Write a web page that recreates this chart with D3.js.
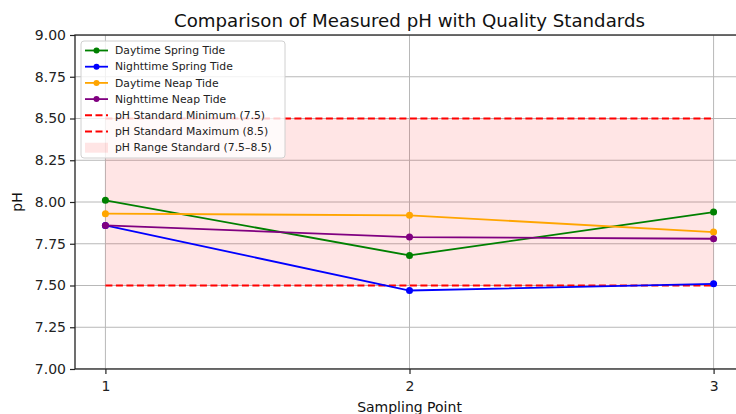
<!DOCTYPE html>
<html>
<head>
<meta charset="utf-8">
<script src="https://cdn.jsdelivr.net/npm/d3@7"></script>
<style>
  html, body { margin: 0; padding: 0; background: #fff; }
  svg { display: block; font-family: "DejaVu Sans", sans-serif; }
</style>
</head>
<body>
<svg id="chart" width="736" height="414"></svg>
<script>
const samplingPoints = [1, 2, 3];
const daytimeSpring = [8.01, 7.68, 7.94];
const nighttimeSpring = [7.86, 7.47, 7.51];
const daytimeNeap = [7.93, 7.92, 7.82];
const nighttimeNeap = [7.86, 7.79, 7.78];
const phMin = 7.5;
const phMax = 8.5;
const yTicks = [7.00, 7.25, 7.50, 7.75, 8.00, 8.25, 8.50, 8.75, 9.00];
const seriesNames = ["Daytime Spring Tide", "Nighttime Spring Tide", "Daytime Neap Tide", "Nighttime Neap Tide"];
const seriesColors = ["green", "blue", "orange", "purple"];
const title = "Comparison of Measured pH with Quality Standards";

const series = [daytimeSpring, nighttimeSpring, daytimeNeap, nighttimeNeap].map((v, i) => ({
  name: seriesNames[i], color: seriesColors[i], values: v
}));

const svg = d3.select("#chart");
const m = { left: 75, top: 35, right: 744, bottom: 369 };

const x = d3.scaleLinear().domain([0.9, 3.1]).range([m.left, m.right]);
const y = d3.scaleLinear().domain([7, 9]).range([m.bottom, m.top]);

svg.append("defs").append("clipPath").attr("id", "plotclip")
  .append("rect").attr("x", m.left).attr("y", m.top)
  .attr("width", m.right - m.left).attr("height", m.bottom - m.top);

const plot = svg.append("g").attr("clip-path", "url(#plotclip)");

// grid
plot.selectAll(".gy").data(yTicks).enter().append("line")
  .attr("x1", m.left).attr("x2", m.right)
  .attr("y1", d => y(d)).attr("y2", d => y(d))
  .attr("stroke", "#b8b8b8").attr("stroke-width", 1);
plot.selectAll(".gx").data(samplingPoints).enter().append("line")
  .attr("y1", m.top).attr("y2", m.bottom)
  .attr("x1", d => x(d)).attr("x2", d => x(d))
  .attr("stroke", "#b8b8b8").attr("stroke-width", 1);

// standard range band
plot.append("rect")
  .attr("x", x(samplingPoints[0]))
  .attr("width", x(samplingPoints[samplingPoints.length - 1]) - x(samplingPoints[0]))
  .attr("y", y(phMax)).attr("height", y(phMin) - y(phMax))
  .attr("fill", "red").attr("fill-opacity", 0.1);

// standard lines
[phMin, phMax].forEach(v => {
  plot.append("line")
    .attr("x1", x(samplingPoints[0])).attr("x2", x(samplingPoints[samplingPoints.length - 1]))
    .attr("y1", y(v)).attr("y2", y(v))
    .attr("stroke", "red").attr("stroke-width", 2)
    .attr("stroke-dasharray", "7,3.5");
});

// series
const line = d3.line().x((d, i) => x(samplingPoints[i])).y(d => y(d));
series.forEach(s => {
  plot.append("path").datum(s.values)
    .attr("d", line).attr("fill", "none")
    .attr("stroke", s.color).attr("stroke-width", 1.8);
  plot.selectAll(null).data(s.values).enter().append("circle")
    .attr("cx", (d, i) => x(samplingPoints[i])).attr("cy", d => y(d))
    .attr("r", 3.5).attr("fill", s.color);
});

// axes
const yAxis = d3.axisLeft(y).tickValues(yTicks).tickFormat(d3.format(".2f")).tickSize(5).tickPadding(4);
const gy = svg.append("g").attr("transform", `translate(${m.left},0)`).call(yAxis);
const xAxis = d3.axisBottom(x).tickValues(samplingPoints).tickFormat(d3.format("d")).tickSize(5).tickPadding(4);
const gx = svg.append("g").attr("transform", `translate(0,${m.bottom})`).call(xAxis);
[gx, gy].forEach(g => {
  g.select(".domain").remove();
  g.selectAll("line").attr("stroke", "#222").attr("stroke-width", 1.2);
  g.selectAll("text").attr("font-size", 14).attr("fill", "#222").attr("font-family", "DejaVu Sans, sans-serif");
});
gx.selectAll("text").attr("dy", "0.9em");

// spines
svg.append("rect").attr("x", m.left).attr("y", m.top)
  .attr("width", m.right - m.left).attr("height", m.bottom - m.top)
  .attr("fill", "none").attr("stroke", "#222").attr("stroke-width", 1.3);

// title and labels
svg.append("text").attr("x", (m.left + m.right) / 2).attr("y", 27)
  .attr("text-anchor", "middle").attr("font-size", 18.2).attr("fill", "#111").text(title);
svg.append("text").attr("x", (m.left + m.right) / 2).attr("y", 412)
  .attr("text-anchor", "middle").attr("font-size", 14).attr("fill", "#111").text("Sampling Point");
svg.append("text").attr("transform", `translate(22,${(m.top + m.bottom) / 2}) rotate(-90)`)
  .attr("text-anchor", "middle").attr("font-size", 14).attr("fill", "#111").text("pH");

// legend
const legendItems = series.map(s => ({ type: "line", name: s.name, color: s.color }))
  .concat([
    { type: "dash", name: `pH Standard Minimum (${phMin})`, color: "red" },
    { type: "dash", name: `pH Standard Maximum (${phMax})`, color: "red" },
    { type: "band", name: `pH Range Standard (${phMin}–${phMax})`, color: "red" }
  ]);
const lg = svg.append("g").attr("transform", "translate(81,41)");
lg.append("rect").attr("width", 204).attr("height", 117).attr("rx", 3)
  .attr("fill", "#fff").attr("fill-opacity", 0.8).attr("stroke", "#d0d0d0").attr("stroke-width", 1);
legendItems.forEach((d, i) => {
  const gy0 = 9.5 + i * 16.2;
  const g = lg.append("g").attr("transform", `translate(0,${gy0})`);
  if (d.type === "line") {
    g.append("line").attr("x1", 4).attr("x2", 27).attr("stroke", d.color).attr("stroke-width", 1.8);
    g.append("circle").attr("cx", 15.5).attr("r", 3).attr("fill", d.color);
  } else if (d.type === "dash") {
    g.append("line").attr("x1", 4).attr("x2", 27).attr("stroke", d.color).attr("stroke-width", 2)
      .attr("stroke-dasharray", "7,3.5");
  } else {
    g.append("rect").attr("x", 4).attr("y", -5).attr("width", 23).attr("height", 10)
      .attr("fill", d.color).attr("fill-opacity", 0.1);
  }
  g.append("text").attr("x", 34).attr("y", 0).attr("dy", "0.35em")
    .attr("font-size", 10.8).attr("fill", "#222").text(d.name);
});
</script>
</body>
</html>
